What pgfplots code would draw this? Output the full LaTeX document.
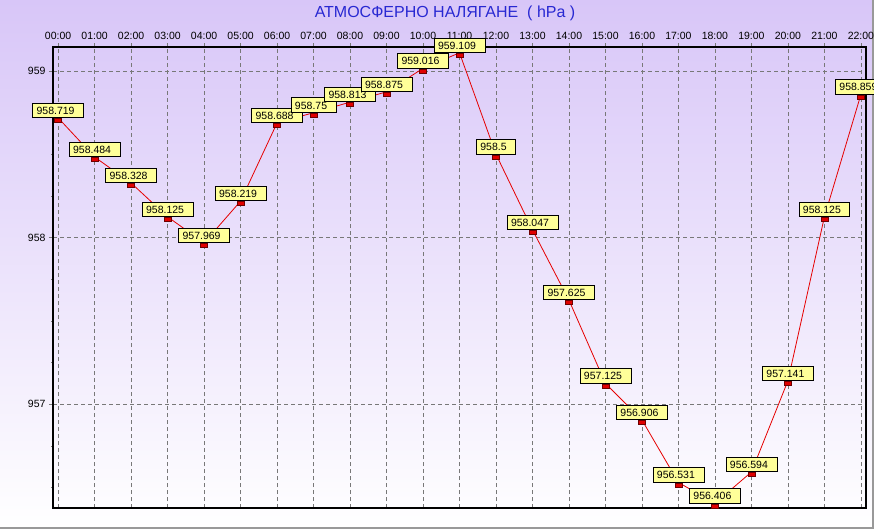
\documentclass[border=0pt]{standalone}
\usepackage{fontspec}
\setmainfont{Liberation Sans}
\usepackage{pgfplots}
\pgfplotsset{compat=1.18}
\usepackage{pgfplotstable}
\definecolor{bgtop}{RGB}{216,198,248}
\definecolor{titleblue}{RGB}{40,40,210}
\definecolor{labelyellow}{RGB}{255,255,153}
\definecolor{markred}{RGB}{224,0,0}
\definecolor{markdark}{RGB}{110,0,0}
\definecolor{gridgray}{RGB}{120,120,120}
\definecolor{linered}{RGB}{230,0,0}
\pgfdeclareplotmark{hangrect}{%
  \pgfpathrectangle{\pgfpoint{-3.5pt}{-4.5pt}}{\pgfpoint{7pt}{4pt}}%
  \pgfusepathqfillstroke}
\pgfplotstableread{
x y lab
0 958.719 958.719
1 958.484 958.484
2 958.328 958.328
3 958.125 958.125
4 957.969 957.969
5 958.219 958.219
6 958.688 958.688
7 958.75 958.75
8 958.813 958.813
9 958.875 958.875
10 959.016 959.016
11 959.109 959.109
12 958.5 958.5
13 958.047 958.047
14 957.625 957.625
15 957.125 957.125
16 956.906 956.906
17 956.531 956.531
18 956.406 956.406
19 956.594 956.594
20 957.141 957.141
21 958.125 958.125
22 958.859 958.859
}\datatable
\begin{document}
\begin{tikzpicture}[x=1pt,y=1pt]
\shade[top color=bgtop,bottom color=white] (0,0) rectangle (874,-529);
\useasboundingbox (0,0) rectangle (874,-529);
\draw[gray!80, line width=1.5pt] (873,0) -- (873,-528) -- (0,-528);
\node[font=\fontsize{16}{19}\selectfont, text=titleblue] at (445,-13.5) {АТМОСФЕРНО НАЛЯГАНЕ \ ( hPa )};
\begin{axis}[
  at={(53pt,-508pt)}, anchor=south west,
  scale only axis, width=813pt, height=461pt,
  xmin=-0.14, xmax=22.14, ymin=956.378, ymax=959.144,
  clip=false,
  axis line style={line width=2pt, black},
  xtick={0,...,22},
  xticklabels={00:00,01:00,02:00,03:00,04:00,05:00,06:00,07:00,08:00,09:00,10:00,11:00,12:00,13:00,14:00,15:00,16:00,17:00,18:00,19:00,20:00,21:00,22:00},
  xticklabel pos=upper, xtick pos=upper,
  ytick={957,958,959}, ytick pos=left,
  minor ytick={956.5,956.75,957.25,957.5,957.75,958.25,958.5,958.75},
  tick align=outside, major tick length=4pt, minor tick length=2pt,
  grid=major,
  major grid style={gridgray, dash pattern=on 4pt off 3pt, line width=0.8pt},
  tick style={gridgray, line width=0.8pt},
  ticklabel style={font=\fontsize{10.5}{12}\selectfont, text=black},
  /pgf/number format/assume math mode=true,
  yticklabel style={/pgf/number format/fixed},
  nodes near coords={\pgfplotspointmeta\kern5pt},
  every node near coord/.append style={anchor=south, fill=labelyellow, draw=black, line width=0.8pt, inner xsep=4pt, inner ysep=3.2pt, text height=8pt, text depth=0pt, font=\fontsize{10.5}{12}\selectfont, text=black},
]
\addplot[linered, line width=0.8pt, mark=hangrect, mark options={fill=markred, draw=markdark, line width=0.6pt, solid},
  point meta=explicit symbolic] table[x=x, y=y, meta=lab] {\datatable};
\end{axis}
\end{tikzpicture}
\end{document}
